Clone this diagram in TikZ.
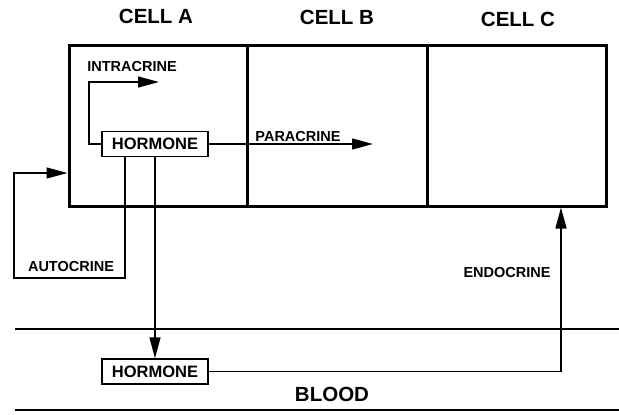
\documentclass[tikz,border=0pt]{standalone}
\usepackage{fontspec}
\setmainfont{Liberation Sans}
\usetikzlibrary{arrows.meta}
\begin{document}
\begin{tikzpicture}[x=1pt,y=-1pt,
  cell/.style={draw,line width=3pt,inner sep=0pt,minimum height=161pt},
  hbox/.style={draw,line width=1.4pt,inner sep=0pt,minimum width=106pt,minimum height=25pt,font=\fontsize{16.5}{18}\selectfont\bfseries},
  conn/.style={line width=1.4pt},
  arr/.style={conn,-{Triangle[length=21pt,width=11pt]}},
  lbl/.style={font=\fontsize{14.5}{16}\selectfont\bfseries,inner sep=0pt},
  big/.style={font=\fontsize{20.5}{22}\selectfont\bfseries,inner sep=0pt},
  bloodline/.style={line width=2.8pt}]
\useasboundingbox (0,0) rectangle (619,415);
% cells
\node[cell,minimum width=178pt] (cellA) at (158,125.5) {};
\node[cell,minimum width=180pt] (cellB) at (337,125.5) {};
\node[cell,minimum width=179pt] (cellC) at (516.5,125.5) {};
\node[big] (tA) at (156,16) {CELL A};
\node[big] (tB) at (337,17) {CELL B};
\node[big] (tC) at (518,19) {CELL C};
% hormone boxes
\node[hbox] (h1) at (155,144) {HORMONE};
\node[hbox] (h2) at (155,371.5) {HORMONE};
% blood
\coordinate (bl1) at (15,329);
\coordinate (br1) at (619,329);
\coordinate (bl2) at (15,410);
\coordinate (br2) at (619,410);
\draw[bloodline] (bl1) -- (br1);
\draw[bloodline] (bl2) -- (br2);
\node[big] (blood) at (332,394) {BLOOD};
% intracrine
\coordinate (ic) at (89,82);
\coordinate (it) at (159,82);
\draw[arr] (h1.west) -| (ic) -- (it);
\node[lbl] (il) at (132,67) {INTRACRINE};
% paracrine
\coordinate (pt) at (373,144);
\draw[arr] (h1.east) -- (pt);
\node[lbl] (pl) at (298,137) {PARACRINE};
% autocrine
\coordinate (a1) at (125,278);
\coordinate (a2) at (14,173);
\draw[arr] (h1.south -| a1) -- (a1) -| (a2) -- (cellA.west |- a2);
\node[lbl] (al) at (71,267) {AUTOCRINE};
% to blood
\draw[arr] (h1.south) -- (h2.north);
% endocrine
\coordinate (e1) at (561,371.5);
\draw[arr] (h2.east) -- (e1) -- (cellC.south -| e1);
\node[lbl] (el) at (507,273) {ENDOCRINE};
\end{tikzpicture}
\end{document}
